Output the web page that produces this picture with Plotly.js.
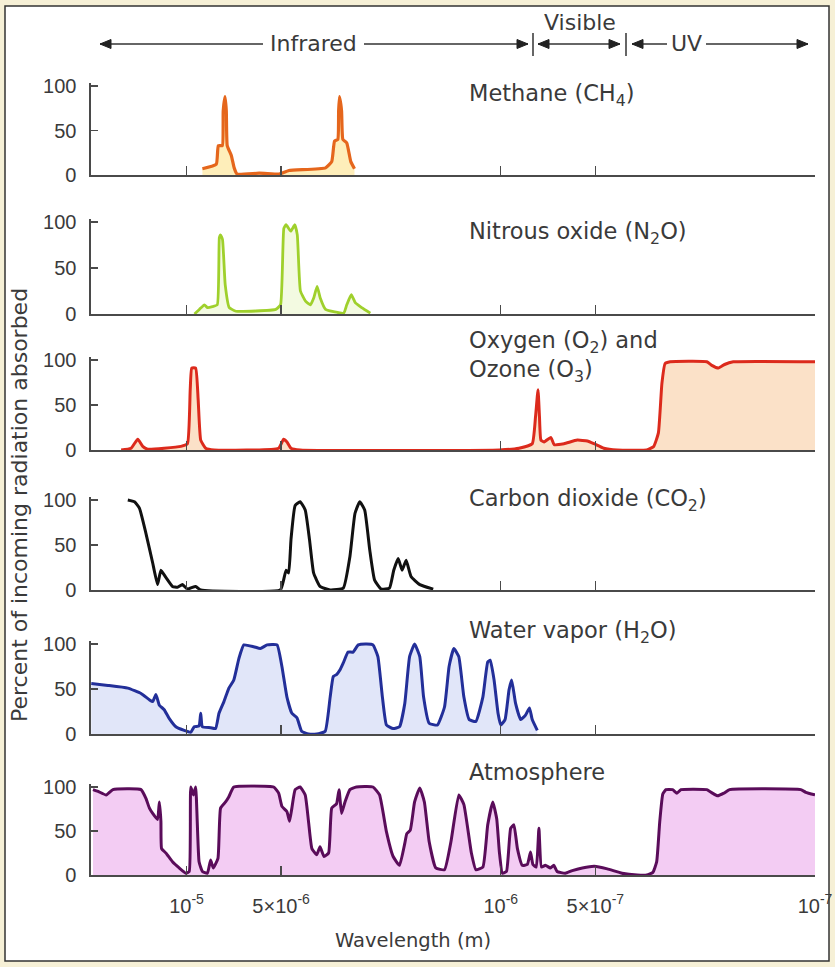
<!DOCTYPE html>
<html><head><meta charset="utf-8">
<script src="https://cdn.plot.ly/plotly-3.0.1.min.js"></script>
<style>html,body{margin:0;padding:0;background:#fff}</style>
</head><body>
<div id="chart" style="width:835px;height:967px"></div>
<script>
// Wavelengths in micrometres, absorption in percent
const ch4_um  = [8.90, 8.04, 7.92, 7.69, 7.64, 7.54, 7.47, 7.42, 7.20, 7.05, 6.90, 5.87, 5.08, 4.97, 4.72, 3.61, 3.45, 3.38, 3.30, 3.28, 3.26, 3.21, 3.18, 3.09, 3.00, 2.92];
const ch4_pct = [7, 12, 33, 33, 72, 88, 72, 33, 22, 8, 1, 2, 1, 2, 5, 8, 15, 38, 40, 72, 88, 72, 40, 36, 15, 7];

const n2o_um  = [9.43, 9.10, 8.77, 8.58, 8.27, 7.98, 7.86, 7.79, 7.68, 7.53, 7.31, 6.96, 5.20, 5.02, 4.90, 4.82, 4.66, 4.52, 4.44, 4.34, 4.18, 4.03, 3.94, 3.84, 3.75, 3.61, 3.16, 3.09, 2.99, 2.90, 2.77, 2.60];
const n2o_pct = [0, 5, 10, 7, 8, 10, 83, 86, 81, 32, 7, 3, 5, 10, 93, 97, 90, 97, 86, 25, 14, 10, 17, 30, 17, 5, 1, 10, 21, 12, 7, 1];

const o3_um  = [16.14, 15.01, 14.29, 13.78, 13.29, 10.42, 9.93, 9.73, 9.62, 9.35, 9.18, 9.01, 8.69, 8.17, 5.09, 4.91, 4.79, 4.65, 4.35, 1.01, 0.875, 0.794, 0.775, 0.761, 0.753, 0.745, 0.727, 0.693, 0.676, 0.629, 0.571, 0.530, 0.505, 0.470, 0.426, 0.343, 0.326, 0.315, 0.307, 0.300, 0.289, 0.221, 0.213, 0.203, 0.194, 0.182, 0.100];
const o3_pct = [0, 2, 12, 4, 1, 4, 7, 67, 91, 91, 56, 11, 2, 0, 2, 12, 9, 2, 0, 0, 2, 7, 37, 67, 37, 11, 9, 14, 6, 7, 11, 10, 7, 2, 0, 0, 4, 19, 74, 96, 98, 98, 94, 91, 95, 98, 98];

const co2_um  = [15.37, 14.64, 14.12, 13.46, 12.81, 12.36, 12.06, 11.63, 11.08, 10.68, 10.30, 9.93, 9.35, 9.01, 5.03, 4.91, 4.82, 4.73, 4.65, 4.51, 4.35, 4.19, 4.06, 3.94, 3.76, 3.49, 3.17, 3.02, 2.91, 2.81, 2.71, 2.61, 2.52, 2.40, 2.26, 2.19, 2.12, 2.06, 2.00, 1.93, 1.81, 1.64];
const co2_pct = [100, 98, 91, 63, 30, 6, 22, 14, 4, 3, 6, 1, 4, 0, 0, 11, 22, 19, 56, 94, 98, 89, 56, 19, 4, 0, 2, 37, 85, 98, 89, 44, 11, 1, 2, 22, 35, 22, 33, 15, 6, 1];

const h2o_um  = [20.09, 17.78, 15.37, 13.95, 13.12, 12.81, 12.51, 12.20, 11.77, 11.34, 10.81, 10.17, 9.69, 9.45, 9.12, 9.01, 8.90, 8.38, 8.08, 7.88, 7.60, 7.33, 7.07, 6.81, 6.57, 6.11, 5.82, 5.54, 5.15, 4.97, 4.79, 4.62, 4.45, 4.30, 4.09, 3.85, 3.62, 3.49, 3.41, 3.33, 3.25, 3.17, 3.06, 2.95, 2.84, 2.67, 2.55, 2.46, 2.38, 2.31, 2.20, 2.10, 2.02, 1.95, 1.88, 1.81, 1.76, 1.69, 1.59, 1.51, 1.46, 1.41, 1.36, 1.31, 1.26, 1.20, 1.14, 1.10, 1.08, 1.05, 1.02, 1.00, 0.969, 0.941, 0.923, 0.897, 0.864, 0.834, 0.810, 0.794, 0.765];
const h2o_pct = [56, 54, 51, 45, 38, 36, 44, 32, 27, 17, 8, 4, 2, 8, 9, 23, 8, 7, 6, 23, 36, 51, 60, 84, 99, 97, 95, 99, 99, 75, 41, 23, 18, 3, 0, 0, 3, 41, 64, 66, 71, 79, 91, 91, 99, 100, 99, 86, 41, 10, 6, 8, 34, 86, 100, 86, 41, 12, 10, 30, 75, 95, 86, 41, 16, 14, 41, 80, 82, 60, 23, 10, 16, 49, 60, 34, 16, 21, 29, 16, 4];

const atm_um  = [19.84, 19.12, 18.01, 17.15, 13.95, 13.46, 13.12, 12.81, 12.36, 12.20, 12.06, 12.00, 11.63, 11.08, 10.55, 10.05, 9.80, 9.69, 9.50, 9.35, 9.12, 8.90, 8.58, 8.38, 8.22, 7.94, 7.79, 7.51, 7.33, 7.07, 5.28, 5.09, 4.97, 4.79, 4.70, 4.62, 4.51, 4.35, 4.19, 4.09, 3.99, 3.85, 3.76, 3.65, 3.53, 3.45, 3.33, 3.27, 3.21, 3.13, 3.02, 2.88, 2.55, 2.43, 2.31, 2.20, 2.10, 2.02, 1.99, 1.94, 1.88, 1.81, 1.75, 1.69, 1.61, 1.51, 1.44, 1.36, 1.31, 1.24, 1.20, 1.14, 1.10, 1.06, 1.03, 1.01, 0.988, 0.959, 0.930, 0.908, 0.885, 0.854, 0.823, 0.804, 0.790, 0.771, 0.756, 0.742, 0.721, 0.695, 0.678, 0.662, 0.623, 0.592, 0.550, 0.504, 0.458, 0.411, 0.368, 0.343, 0.328, 0.319, 0.312, 0.305, 0.298, 0.284, 0.275, 0.267, 0.221, 0.212, 0.204, 0.195, 0.187, 0.111, 0.107, 0.100];
const atm_pct = [97, 95, 91, 97, 97, 87, 76, 70, 63, 83, 61, 30, 25, 15, 8, 2, 4, 100, 91, 100, 15, 4, 2, 17, 8, 19, 76, 83, 89, 100, 100, 93, 78, 72, 61, 76, 97, 100, 91, 61, 30, 23, 32, 21, 25, 76, 81, 97, 70, 83, 97, 100, 100, 91, 49, 21, 11, 36, 47, 51, 83, 99, 83, 38, 8, 6, 38, 91, 80, 25, 6, 9, 57, 83, 64, 26, 2, 4, 53, 57, 30, 11, 12, 26, 12, 9, 53, 9, 11, 8, 11, 4, 2, 5, 8, 10, 7, 2, 0, 0, 3, 15, 60, 92, 97, 97, 93, 97, 97, 93, 90, 93, 97, 97, 94, 91];

const panelNames = ['Methane (CH<sub>4</sub>)', 'Nitrous oxide (N<sub>2</sub>O)', 'Oxygen (O<sub>2</sub>) and<br>Ozone (O<sub>3</sub>)', 'Carbon dioxide (CO<sub>2</sub>)', 'Water vapor (H<sub>2</sub>O)', 'Atmosphere'];
const tickVals_m = [1e-5, 5e-6, 1e-6, 5e-7, 1e-7];
const tickText = ['10<sup>-5</sup>', '5\u00d710<sup>-6</sup>', '10<sup>-6</sup>', '5\u00d710<sup>-7</sup>', '10<sup>-7</sup>'];
const yTickVals = [0, 50, 100];
const bandNames = ['Infrared', 'Visible', 'UV'];

// ---- styling / layout ----
const W = 835, H = 967;
const px = v => v / W, py = v => 1 - v / H;
const series = [
  {x: ch4_um, y: ch4_pct, line: '#e5661c', fill: 'rgba(253,226,140,0.6)', lw: 3.2},
  {x: n2o_um, y: n2o_pct, line: '#9fd02c', fill: 'rgba(220,240,170,0.35)', lw: 2.8},
  {x: o3_um,  y: o3_pct,  line: '#dc2a1c', fill: 'rgba(249,212,176,0.7)', lw: 3},
  {x: co2_um, y: co2_pct, line: '#111111', fill: null, lw: 3},
  {x: h2o_um, y: h2o_pct, line: '#232f99', fill: 'rgba(205,214,245,0.6)', lw: 3},
  {x: atm_um, y: atm_pct, line: '#5a0c5a', fill: 'rgba(236,176,236,0.65)', lw: 3}
];
const base = [175, 314, 450, 590, 734, 875];
const top100 = [86, 222, 360, 500, 644, 787];
const labelY = [95, 233, 356, 500, 632, 772];
const YMAX = 103;
const FONT = '"Liberation Sans", Arial, sans-serif';
const LFONT = '"DejaVu Sans", sans-serif';
const TXT = '#3a3a3a';

const traces = [];
const layout = {
  width: W, height: H,
  margin: {l: 0, r: 0, t: 0, b: 0},
  paper_bgcolor: '#f6f0d6', plot_bgcolor: 'rgba(0,0,0,0)',
  showlegend: false,
  font: {family: FONT, color: TXT},
  annotations: [], shapes: []
};
series.forEach((s, i) => {
  const k = i === 0 ? '' : String(i + 1);
  traces.push({
    type: 'scatter', mode: 'lines',
    x: s.x.map(v => v * 1e-6), y: s.y,
    xaxis: 'x' + k, yaxis: 'y' + k,
    line: {color: s.line, width: s.lw, shape: 'spline', smoothing: 0.4},
    fill: s.fill ? 'tozeroy' : 'none', fillcolor: s.fill || undefined,
    hoverinfo: 'skip'
  });
  const topPx = top100[i] - (YMAX - 100) / 100 * (base[i] - top100[i]);
  const last = i === series.length - 1;
  layout['xaxis' + k] = {
    type: 'log', range: [Math.log10(2.013e-5), -7], domain: [px(91), px(815)],
    anchor: 'y' + k, showline: true, linecolor: '#4a4a4a', linewidth: 1.6,
    ticks: 'inside', ticklen: 9, tickwidth: 1.4, tickcolor: '#4a4a4a',
    tickvals: tickVals_m, ticktext: tickText, showticklabels: last,
    tickfont: {size: 20, color: TXT, family: FONT}, ticklabelstandoff: 12,
    showgrid: false, zeroline: false, fixedrange: true
  };
  layout['yaxis' + k] = {
    range: [0, YMAX], domain: [py(base[i]), py(topPx)], anchor: 'x' + k,
    showline: true, linecolor: '#4a4a4a', linewidth: 1.6,
    ticks: 'inside', ticklen: 7, tickwidth: 1.4, tickcolor: '#4a4a4a',
    tickvals: yTickVals, tickfont: {size: 20, color: TXT, family: FONT},
    ticklabelstandoff: 9, showgrid: false, zeroline: false, fixedrange: true
  };
  layout.annotations.push({
    xref: 'paper', yref: 'paper', x: px(467), y: py(labelY[i]),
    xanchor: 'left', yanchor: 'middle', align: 'left', showarrow: false,
    text: panelNames[i], font: {size: 22.5, color: TXT, family: LFONT}
  });
});

// frame
layout.shapes.push({type: 'rect', xref: 'paper', yref: 'paper', layer: 'below',
  x0: px(5), x1: px(829), y0: py(961), y1: py(6), fillcolor: '#ffffff',
  line: {color: '#333', width: 1.5}});

// spectral band header: lines, arrow heads, separators
const yA = 44;
const hLine = (a, b) => ({type: 'line', xref: 'paper', yref: 'paper',
  x0: px(a), x1: px(b), y0: py(yA), y1: py(yA), line: {color: '#333', width: 1.4}});
const head = (x, dir) => ({type: 'path', xref: 'paper', yref: 'paper',
  path: 'M ' + px(x) + ' ' + py(yA) + ' L ' + px(x + dir * 11) + ' ' + py(yA - 4.5) +
        ' L ' + px(x + dir * 11) + ' ' + py(yA + 4.5) + ' Z',
  fillcolor: '#222', line: {color: '#222', width: 1}});
layout.shapes.push(
  hLine(100, 263), hLine(364, 528), hLine(538, 620), hLine(632, 667), hLine(706, 808),
  head(100, 1), head(528, -1), head(538, 1), head(620, -1), head(632, 1), head(808, -1));
[533, 626].forEach(x => layout.shapes.push({type: 'line', xref: 'paper', yref: 'paper',
  x0: px(x), x1: px(x), y0: py(33), y1: py(56), line: {color: '#333', width: 1.5}}));
const bandPos = [[313, 44], [580, 22], [686, 44]];
bandNames.forEach((t, i) => layout.annotations.push({xref: 'paper', yref: 'paper',
  x: px(bandPos[i][0]), y: py(bandPos[i][1]), text: t, showarrow: false,
  xanchor: 'center', yanchor: 'middle', font: {size: 22, color: TXT, family: LFONT}}));

// axis titles
layout.annotations.push({xref: 'paper', yref: 'paper', x: px(413), y: py(940),
  text: 'Wavelength (m)', showarrow: false, xanchor: 'center', yanchor: 'middle',
  font: {size: 19.5, color: TXT, family: LFONT}});
layout.annotations.push({xref: 'paper', yref: 'paper', x: px(19), y: py(505),
  text: 'Percent of incoming radiation absorbed', textangle: -90, showarrow: false,
  xanchor: 'center', yanchor: 'middle', font: {size: 22, color: TXT, family: LFONT}});

Plotly.newPlot('chart', traces, layout, {displayModeBar: false, staticPlot: true});
</script>
</body></html>
